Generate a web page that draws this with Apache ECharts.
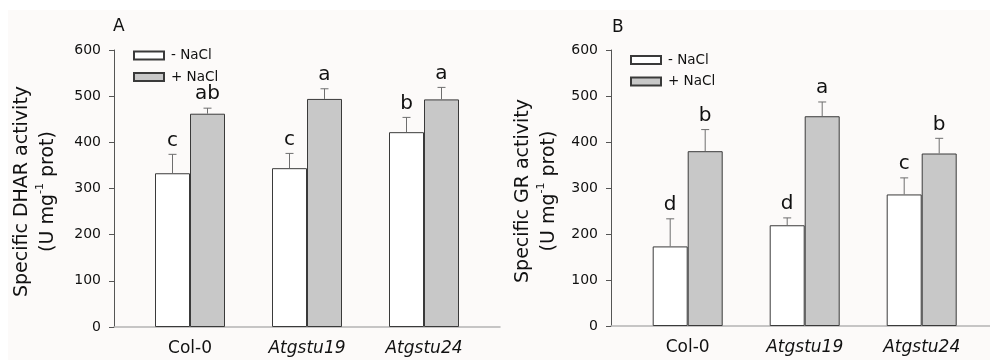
<!DOCTYPE html>
<html>
<head>
<meta charset="utf-8">
<script src="https://cdn.jsdelivr.net/npm/echarts@6/dist/echarts.min.js"></script>
<style>html,body{margin:0;padding:0;background:#fff;}#c{width:990px;height:360px;}</style>
</head>
<body>
<div id="c"></div>
<script>
// ---- data ----
var categories = ['Col-0', 'Atgstu19', 'Atgstu24'];
var italicCats = [false, true, true];
var yTicks = [0, 100, 200, 300, 400, 500, 600];
var seriesNames = ['- NaCl', '+ NaCl'];

var dharMinus = [333, 344, 422];
var dharMinusErr = [41, 32, 32];
var dharMinusLetters = ['c', 'c', 'b'];
var dharPlus = [462, 494, 493];
var dharPlusErr = [12, 22, 26];
var dharPlusLetters = ['ab', 'a', 'a'];

var grMinus = [173, 219, 286];
var grMinusErr = [60, 16, 36];
var grMinusLetters = ['d', 'd', 'c'];
var grPlus = [380, 456, 375];
var grPlusErr = [47, 31, 33];
var grPlusLetters = ['b', 'a', 'b'];

// ---- chart ----
var FONT = 'DejaVu Sans, Liberation Sans, Arial, sans-serif';
var chart = echarts.init(document.getElementById('c'), null, {renderer: 'canvas'});

var catData = categories.map(function (c, i) {
  return {value: c, textStyle: {fontStyle: italicCats[i] ? 'italic' : 'normal'}};
});

function wideX(gi) {
  return {type: 'value', gridIndex: gi, min: 0, max: 1, show: true,
    axisLine: {show: true, lineStyle: {color: '#b4b4b4', width: 1.5}},
    axisTick: {show: false}, axisLabel: {show: false}, splitLine: {show: false}};
}
function narrowX(gi) {
  return {type: 'category', gridIndex: gi, data: catData,
    axisLine: {show: false}, axisTick: {show: false}, splitLine: {show: false},
    axisLabel: {fontSize: 17, color: '#111', fontFamily: FONT, margin: 13}};
}
function wideY(gi, name, gap) {
  return {type: 'value', gridIndex: gi, min: yTicks[0], max: yTicks[yTicks.length - 1], interval: 100,
    axisLine: {show: true, lineStyle: {color: '#555', width: 1}},
    axisTick: {show: true, inside: false, length: 5, lineStyle: {color: '#555'}},
    axisLabel: {fontSize: 14, color: '#111', fontFamily: FONT, margin: 13},
    splitLine: {show: false},
    name: name, nameLocation: 'middle', nameRotate: 90, nameGap: gap,
    nameTextStyle: {fontFamily: FONT, color: '#111', fontSize: 19, lineHeight: 26, padding: [0, 6, 0, 0],
      rich: {
        a: {fontSize: 19, fontFamily: FONT, color: '#111', lineHeight: 26},
        s: {fontSize: 11, fontFamily: FONT, color: '#111', verticalAlign: 'top', lineHeight: 26}
      }}
  };
}
function narrowY(gi) {
  return {type: 'value', gridIndex: gi, min: yTicks[0], max: yTicks[yTicks.length - 1], interval: 100, show: false};
}

function barSeries(name, xi, data, color) {
  return {name: name, type: 'bar', xAxisIndex: xi, yAxisIndex: xi, data: data,
    barWidth: 35, barGap: '0%',
    itemStyle: {color: color, borderColor: '#3a3a3a', borderWidth: 1}};
}

function errSeries(xi, vals, errs, letters, sign) {
  var d = vals.map(function (v, i) { return [i, v, errs[i]]; });
  return {type: 'custom', xAxisIndex: xi, yAxisIndex: xi, data: d, silent: true, z: 5,
    renderItem: function (params, api) {
      var idx = api.value(0), v = api.value(1), e = api.value(2);
      var p0 = api.coord([idx, v]);
      var p1 = api.coord([idx, v + e]);
      var x = p0[0] + sign * 17.5;
      var col = '#6e6e6e';
      return {type: 'group', children: [
        {type: 'line', shape: {x1: x, y1: p0[1], x2: x, y2: p1[1]}, style: {stroke: col, lineWidth: 1}},
        {type: 'line', shape: {x1: x - 4, y1: p1[1], x2: x + 4, y2: p1[1]}, style: {stroke: col, lineWidth: 1}},
        {type: 'text', x: x, y: p1[1] - 4, style: {text: letters[params.dataIndex], x: 0, y: 0,
          align: 'center', verticalAlign: 'bottom', fontSize: 20, fontFamily: FONT, fill: '#111'}}
      ]};
    }
  };
}

var legendCommon = {orient: 'vertical', itemWidth: 30, itemHeight: 8, itemGap: 7.5, icon: 'rect', padding: 0,
  textStyle: {fontSize: 13.5, fontFamily: FONT, color: '#111', lineHeight: 10, padding: [0, 0, 0, 2]},
  data: seriesNames};

function grid(l, w, h) {
  return {left: l, top: 50, width: w, height: h, containLabel: false, outerBoundsMode: 'none'};
}

var option = {
  animation: false,
  backgroundColor: '#ffffff',
  graphic: [
    {type: 'rect', shape: {x: 8, y: 10, width: 982, height: 350}, style: {fill: '#fcfaf9'}, z: -10, silent: true}
  ],
  title: [
    {text: 'A', left: 113, top: 18, padding: 0, textStyle: {fontSize: 17, fontWeight: 'normal', fontFamily: FONT, color: '#111'}},
    {text: 'B', left: 612, top: 19, padding: 0, textStyle: {fontSize: 17, fontWeight: 'normal', fontFamily: FONT, color: '#111'}}
  ],
  legend: [
    Object.assign({left: 133, top: 48.5}, legendCommon),
    Object.assign({left: 630, top: 53}, legendCommon)
  ],
  grid: [
    grid(114, 386, 277),
    grid(131.5, 351, 277),
    grid(611, 379, 276),
    grid(629.2, 351, 276)
  ],
  xAxis: [wideX(0), narrowX(1), wideX(2), narrowX(3)],
  yAxis: [
    wideY(0, '{a|Specific DHAR activity}\n{a|(U mg}{s|-1}{a| prot)}', 53),
    narrowY(1),
    wideY(2, '{a|Specific GR activity}\n{a|(U mg}{s|-1}{a| prot)}', 49),
    narrowY(3)
  ],
  series: [
    barSeries(seriesNames[0], 1, dharMinus, '#ffffff'),
    barSeries(seriesNames[1], 1, dharPlus, '#c8c8c8'),
    errSeries(1, dharMinus, dharMinusErr, dharMinusLetters, -1),
    errSeries(1, dharPlus, dharPlusErr, dharPlusLetters, 1),
    barSeries(seriesNames[0], 3, grMinus, '#ffffff'),
    barSeries(seriesNames[1], 3, grPlus, '#c8c8c8'),
    errSeries(3, grMinus, grMinusErr, grMinusLetters, -1),
    errSeries(3, grPlus, grPlusErr, grPlusLetters, 1)
  ]
};
chart.setOption(option);
</script>
</body>
</html>
